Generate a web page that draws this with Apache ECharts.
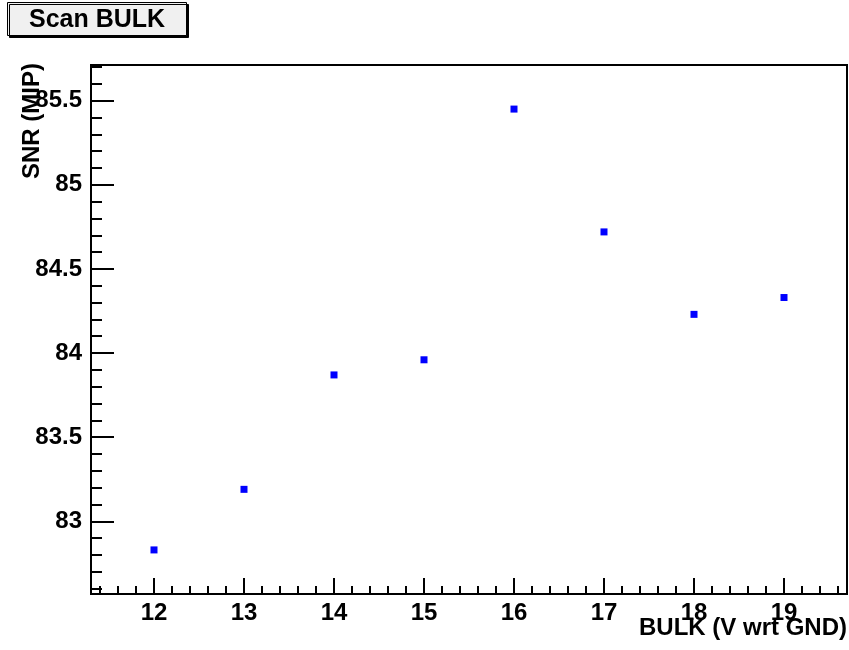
<!DOCTYPE html>
<html>
<head>
<meta charset="utf-8">
<script src="https://cdn.jsdelivr.net/npm/echarts@6/dist/echarts.min.js"></script>
<style>
  html, body { margin: 0; padding: 0; background: #fff; }
  #chart { width: 849px; height: 650px; }
</style>
</head>
<body>
<div id="chart"></div>
<script>
// Bulk voltage scan: signal-to-noise ratio at each bias setting
const bulkVoltage = [12, 13, 14, 15, 16, 17, 18, 19];
const snrValues   = [82.83, 83.19, 83.87, 83.96, 85.45, 84.72, 84.23, 84.33];

const xMajorTicks = [12, 13, 14, 15, 16, 17, 18, 19];
const yMajorTicks = [83, 83.5, 84, 84.5, 85, 85.5];

const xRange = [11.3, 19.7];
const yRange = [82.568, 85.712];

// minor tick positions: 5 subdivisions per major step
function minorTicks(lo, hi, step) {
  const out = [];
  const start = Math.ceil(lo / step - 1e-9);
  const end = Math.floor(hi / step + 1e-9);
  for (let i = start; i <= end; i++) {
    if (i % 5 !== 0) out.push(+(i * step).toFixed(4));
  }
  return out;
}
const xMinor = minorTicks(xRange[0], xRange[1], 0.2);
const yMinor = minorTicks(yRange[0], yRange[1], 0.1);

const FONT = '"Liberation Sans", Arial, Helvetica, sans-serif';
const labelStyle = { color: '#000', fontFamily: FONT, fontWeight: 'bold', fontSize: 24 };

const chart = echarts.init(document.getElementById('chart'), null, { renderer: 'canvas' });

chart.setOption({
  animation: false,
  backgroundColor: '#fff',
  title: {
    text: 'Scan BULK',
    left: 7,
    top: 2,
    padding: [6, 22, 3, 22],
    backgroundColor: '#f0f0f0',
    borderColor: '#000',
    borderWidth: 1,
    shadowColor: '#000',
    shadowBlur: 0,
    shadowOffsetX: 2,
    shadowOffsetY: 2,
    textStyle: { color: '#000', fontFamily: FONT, fontWeight: 'bold', fontSize: 25 }
  },
  grid: {
    left: 91, right: 2, top: 65, bottom: 56,
    show: true, borderColor: '#000', borderWidth: 2, backgroundColor: '#fff'
  },
  xAxis: [
    {
      type: 'value', min: xRange[0], max: xRange[1], position: 'bottom',
      axisLine: { show: false },
      splitLine: { show: false },
      axisTick: { inside: true, length: 16, customValues: xMajorTicks, lineStyle: { color: '#000', width: 2 } },
      axisLabel: Object.assign({ customValues: xMajorTicks, margin: 7 }, labelStyle)
    },
    {
      type: 'value', min: xRange[0], max: xRange[1], position: 'bottom',
      axisLine: { show: false },
      splitLine: { show: false },
      axisTick: { inside: true, length: 8, customValues: xMinor, lineStyle: { color: '#000', width: 2 } },
      axisLabel: { show: false }
    }
  ],
  yAxis: [
    {
      type: 'value', min: yRange[0], max: yRange[1], position: 'left',
      axisLine: { show: false },
      splitLine: { show: false },
      axisTick: { inside: true, length: 23, customValues: yMajorTicks, lineStyle: { color: '#000', width: 2 } },
      axisLabel: Object.assign({ customValues: yMajorTicks, margin: 9 }, labelStyle)
    },
    {
      type: 'value', min: yRange[0], max: yRange[1], position: 'left',
      axisLine: { show: false },
      splitLine: { show: false },
      axisTick: { inside: true, length: 11, customValues: yMinor, lineStyle: { color: '#000', width: 2 } },
      axisLabel: { show: false }
    }
  ],
  graphic: [
    {
      type: 'text', x: 847, y: 628,
      style: { text: 'BULK (V wrt GND)', align: 'right', verticalAlign: 'middle',
               fill: '#000', font: 'bold 24px ' + FONT }
    },
    {
      type: 'text', x: 32, y: 63, rotation: Math.PI / 2,
      style: { text: 'SNR (MIP)', align: 'right', verticalAlign: 'middle',
               fill: '#000', font: 'bold 24px ' + FONT }
    }
  ],
  series: [{
    type: 'scatter',
    xAxisIndex: 0, yAxisIndex: 0,
    symbol: 'rect',
    symbolSize: 7,
    itemStyle: { color: '#0000ff', opacity: 1 },
    data: bulkVoltage.map((v, i) => [v, snrValues[i]])
  }]
});
</script>
</body>
</html>
